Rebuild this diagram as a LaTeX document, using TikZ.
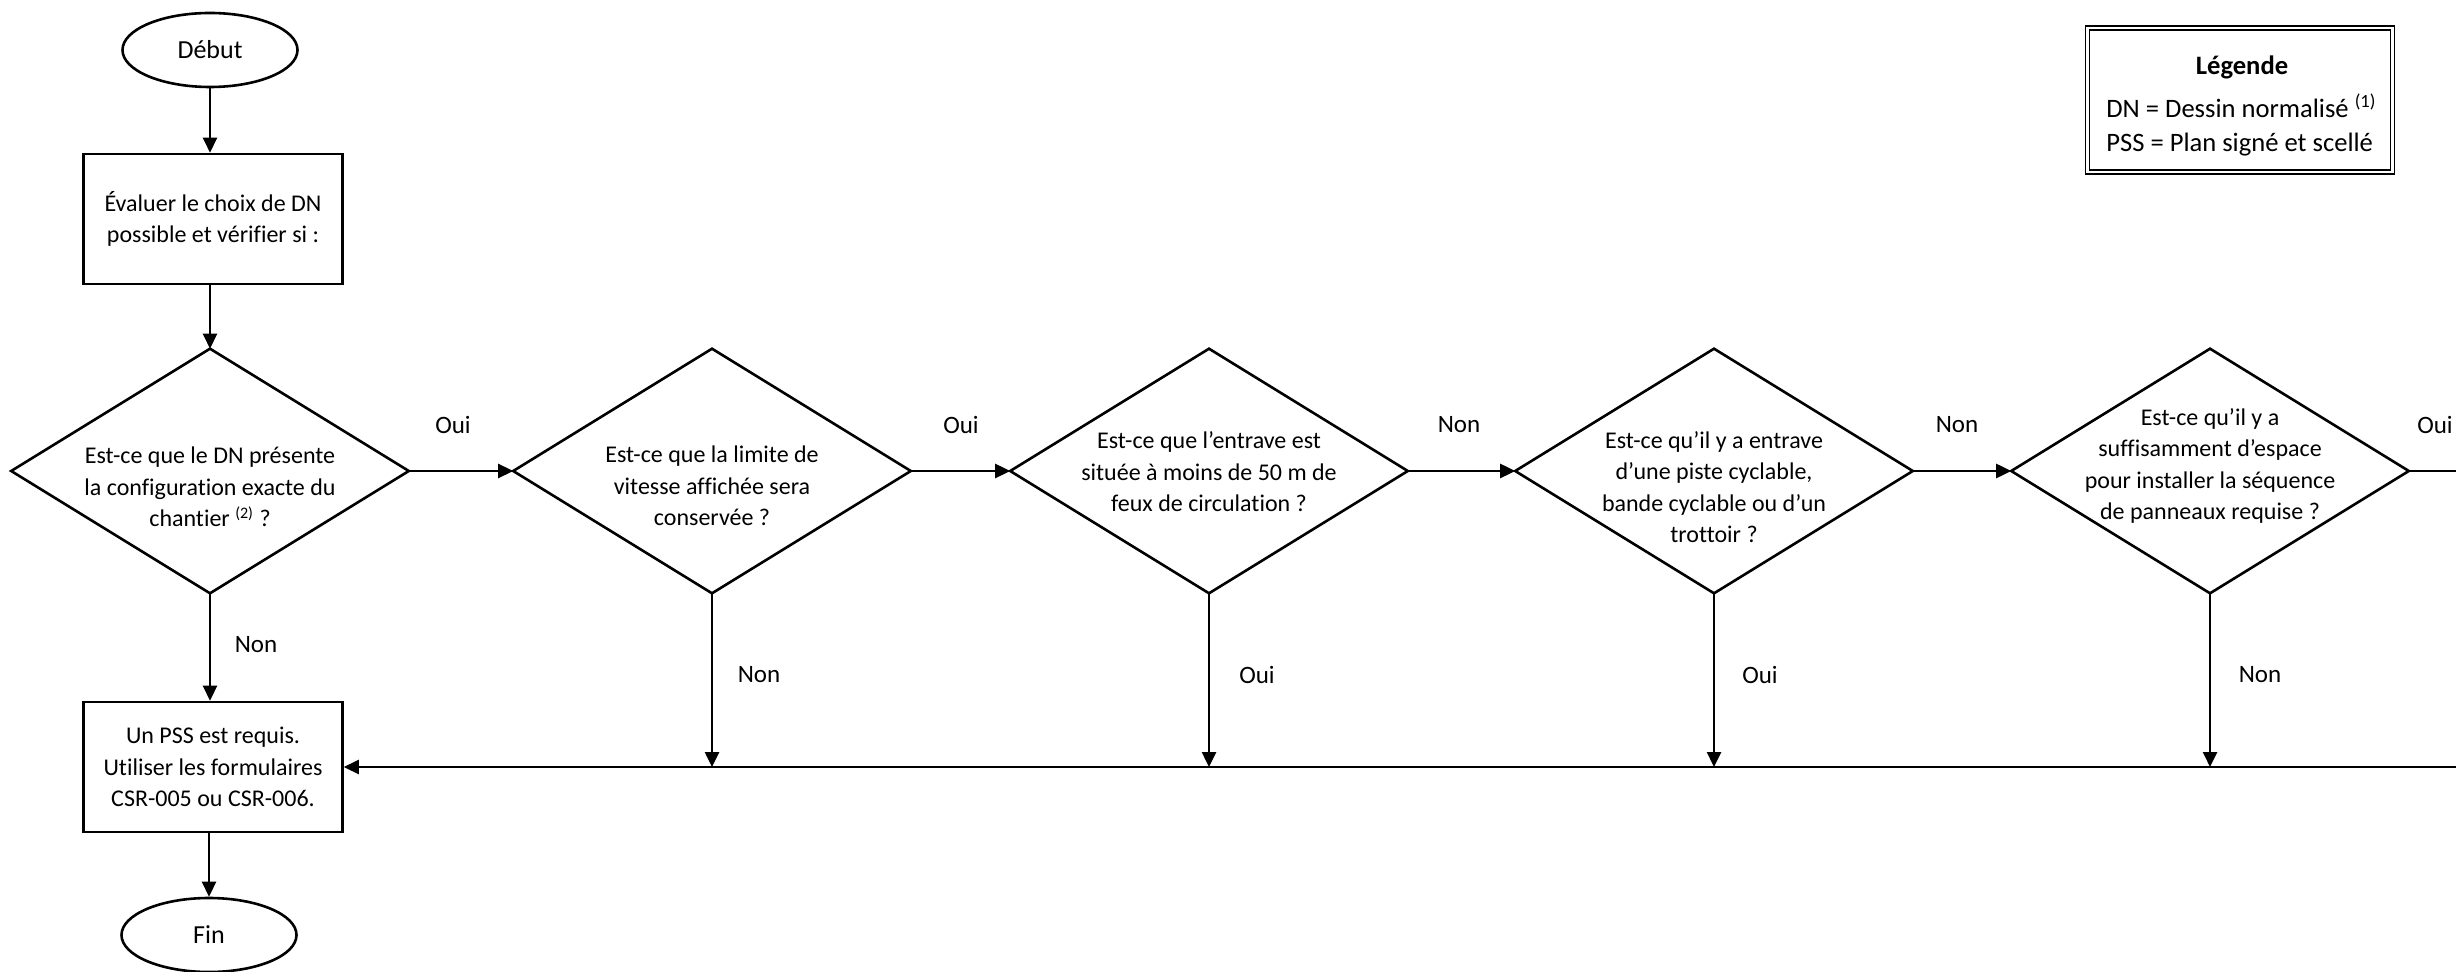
\documentclass[tikz,border=0pt]{standalone}
\usepackage{fontspec}
\setmainfont{Carlito}[Ligatures=NoCommon]
\usetikzlibrary{arrows.meta,shapes.geometric}
\begin{document}
\begin{tikzpicture}[x=0.5pt,y=-0.5pt,
  line width=1.3pt,
  every node/.style={inner sep=0pt},
  term/.style={ellipse, draw, minimum width=87.5pt, minimum height=37pt, font=\fontsize{13}{15.6}\selectfont},
  procbox/.style={rectangle, draw, minimum width=129.5pt, minimum height=65pt, align=center, font=\fontsize{12}{15.75}\selectfont},
  diaframe/.style={rectangle, minimum width=197.5pt, minimum height=121pt},
  qtext/.style={align=center, font=\fontsize{12}{15.75}\selectfont},
  lbl/.style={font=\fontsize{12.5}{15}\selectfont},
  arr/.style={-{Triangle[length=7.5pt,width=7pt]}},
  legbox/.style={draw, double, line width=0.7pt, double distance=1.3pt, minimum width=152.5pt, minimum height=72pt},
]
\useasboundingbox (0,0) rectangle (2456,972);

% terminals and boxes
\node[term] (debut) at (210,50) {Début};
\node[procbox] (eval) at (213,219) {Évaluer le choix de DN\\possible et vérifier si :};
\node[procbox] (pss) at (213,767) {Un PSS est requis.\\Utiliser les formulaires\\CSR-005 ou CSR-006.};
\node[term] (fin) at (209,935) {Fin};

% decision frames
\node[diaframe] (d1) at (210,471) {};
\node[diaframe] (d2) at (712,471) {};
\node[diaframe] (d3) at (1209,471) {};
\node[diaframe] (d4) at (1714,471) {};
\node[diaframe] (d5) at (2210,471) {};
\foreach \d in {d1,d2,d3,d4,d5}
  \draw (\d.north) -- (\d.east) -- (\d.south) -- (\d.west) -- cycle;

% decision texts
\node[qtext] (q1) at (210,487) {Est-ce que le DN présente\\la configuration exacte du\\chantier \textsuperscript{(2)} ?};
\node[qtext] (q2) at (712,486) {Est-ce que la limite de\\vitesse affichée sera\\conservée ?};
\node[qtext] (q3) at (1209,472) {Est-ce que l’entrave est\\située à moins de 50 m de\\feux de circulation ?};
\node[qtext] (q4) at (1714,487) {Est-ce qu’il y a entrave\\d’une piste cyclable,\\bande cyclable ou d’un\\trottoir ?};
\node[qtext] (q5) at (2210,466) {Est-ce qu’il y a\\suffisamment d’espace\\pour installer la séquence\\de panneaux requise ?};

% legend
\node[legbox] (leg) at (2240,100) {};
\node[font=\fontsize{13.3}{17}\selectfont\bfseries] (legt) at (2242,67) {Légende};
\node[anchor=west, align=left, font=\fontsize{13.3}{17}\selectfont] (legb) at (2105,125) {DN = Dessin normalisé \textsuperscript{(1)}\\PSS = Plan signé et scellé};

% free ends at the right border
\coordinate (exitR) at (2456,471);
\coordinate (retR) at (2456,767);

% connectors
\draw[arr] (debut.south) -- (debut.south |- eval.north);
\draw[arr] (d1.north |- eval.south) -- (d1.north);
\draw[arr] (d1.south) -- (d1.south |- pss.north);
\draw[arr] (fin.north |- pss.south) -- (fin.north);
\draw[arr] (d1.east) -- (d2.west);
\draw[arr] (d2.east) -- (d3.west);
\draw[arr] (d3.east) -- (d4.west);
\draw[arr] (d4.east) -- (d5.west);
\draw (d5.east) -- (exitR);
\draw[arr] (retR) -- (pss.east);
\draw[arr] (d2.south) -- (d2.south |- pss.east);
\draw[arr] (d3.south) -- (d3.south |- pss.east);
\draw[arr] (d4.south) -- (d4.south |- pss.east);
\draw[arr] (d5.south) -- (d5.south |- pss.east);

% labels
\node[lbl] (l1) at (453,425) {Oui};
\node[lbl] (l2) at (961,425) {Oui};
\node[lbl] (l3) at (1459,425) {Non};
\node[lbl] (l4) at (1957,425) {Non};
\node[lbl] (l5) at (2435,425) {Oui};
\node[lbl] (b1) at (256,645) {Non};
\node[lbl] (b2) at (759,675) {Non};
\node[lbl] (b3) at (1257,675) {Oui};
\node[lbl] (b4) at (1760,675) {Oui};
\node[lbl] (b5) at (2260,675) {Non};
\end{tikzpicture}
\end{document}
